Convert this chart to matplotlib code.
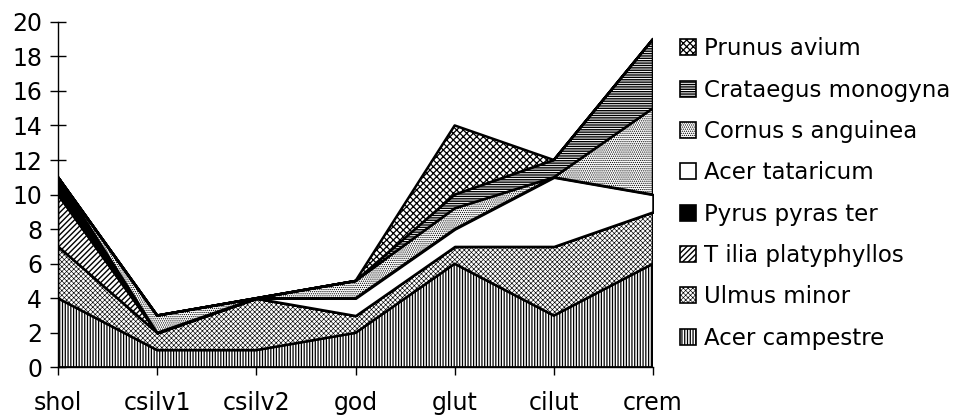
import numpy as np
import matplotlib
matplotlib.use("Agg")
import matplotlib.pyplot as plt
from matplotlib.patches import Patch

# sites along the x axis
sites = ["shol", "csilv1", "csilv2", "god", "glut", "cilut", "crem"]

# species values per site (stacked bottom -> top)
acer_campestre = [4, 1, 1, 2, 6, 3, 6]
ulmus_minor = [3, 1, 3, 1, 1, 4, 3]
tilia_platyphyllos = [3, 0, 0, 0, 0, 0, 0]
pyrus_pyraster = [1, 0, 0, 0, 0, 0, 0]
acer_tataricum = [0, 0, 0, 1, 1, 4, 1]
cornus_sanguinea = [0, 1, 0, 1, 1.2, 0, 5]
crataegus_monogyna = [0, 0, 0, 0, 0.8, 1, 4]
prunus_avium = [0, 0, 0, 0, 4, 0, 0]

# name, values, face, hatch, hatch line width
series = [
    ("Acer campestre", acer_campestre, "white", "||||||", 0.9),
    ("Ulmus minor", ulmus_minor, "white", "xxxxxxx", 0.45),
    ("T ilia platyphyllos", tilia_platyphyllos, "white", "//////", 1.0),
    ("Pyrus pyras ter", pyrus_pyraster, "black", None, 1.0),
    ("Acer tataricum", acer_tataricum, "white", None, 1.0),
    ("Cornus s anguinea", cornus_sanguinea, "white", "........", 0.6),
    ("Crataegus monogyna", crataegus_monogyna, "white", "-------", 1.0),
    ("Prunus avium", prunus_avium, "white", "xxxxx", 0.9),
]

plt.rcParams["font.family"] = ["DejaVu Sans"]

fig = plt.figure(figsize=(9.62, 4.17), dpi=100)
ax = fig.add_axes([0.0603, 0.119, 0.6185, 0.8288])

x = np.arange(len(sites))
bottom = np.zeros(len(sites))
handles = []
for name, vals, fc, hatch, hlw in series:
    plt.rcParams["hatch.linewidth"] = hlw
    top = bottom + np.array(vals, dtype=float)
    ax.fill_between(x, bottom, top, facecolor=fc, edgecolor="black",
                    hatch=hatch, linewidth=1.8, zorder=2)
    handles.append(Patch(facecolor=fc, edgecolor="black", hatch=hatch,
                         linewidth=1.2, label=name))
    bottom = top

ax.set_xlim(0, len(sites) - 1)
ax.set_ylim(0, 20)
ax.set_yticks(range(0, 21, 2))
ax.set_xticks(x)
ax.set_xticklabels(sites)
for s in ["top", "right"]:
    ax.spines[s].set_visible(False)
ax.spines["left"].set_linewidth(1.0)
ax.spines["bottom"].set_linewidth(1.0)
ax.tick_params(axis="y", direction="inout", length=11, width=1.0,
               labelsize=17, pad=6)
ax.tick_params(axis="x", direction="out", length=6, width=1.0,
               labelsize=17, pad=11)

leg = fig.legend(handles=handles[::-1], loc="upper left",
                 bbox_to_anchor=(0.685, 0.96), frameon=False, fontsize=16.5,
                 handlelength=0.7, handleheight=0.7, handletextpad=0.35,
                 labelspacing=0.8)
# legend copies the patches, so give them back their hatch widths
for p, (_, _, _, _, hlw) in zip(leg.get_patches(), series[::-1]):
    if hasattr(p, "set_hatch_linewidth"):
        p.set_hatch_linewidth(hlw)
    else:
        p._hatch_linewidth = hlw

fig.savefig("out.png", dpi=100)
